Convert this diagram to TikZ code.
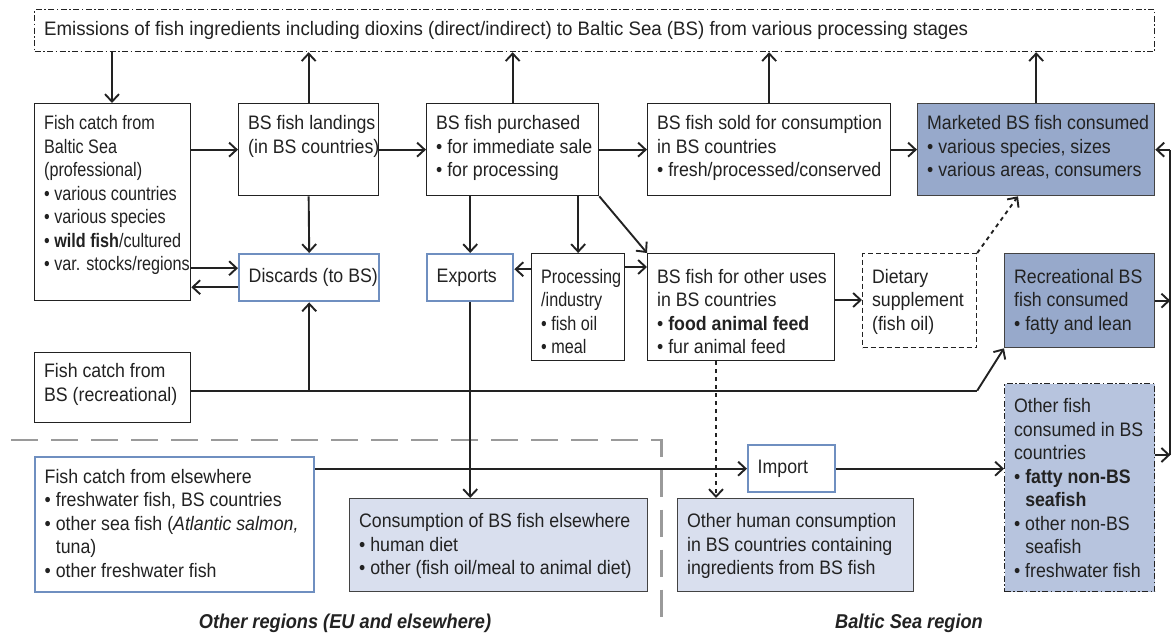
\documentclass[tikz,border=0pt]{standalone}
\usepackage{fontspec}
\setmainfont{Liberation Sans}[FakeStretch=0.91]
\newfontfamily\narrowfont{Liberation Sans}[FakeStretch=0.83]
\newfontfamily\widefont{Liberation Sans}[FakeStretch=0.958]
\usetikzlibrary{arrows.meta}

\definecolor{ink}{HTML}{222222}
\definecolor{bluemid}{HTML}{97A9CB}
\definecolor{bluelight}{HTML}{B7C4DE}
\definecolor{bluepale}{HTML}{D9DFEE}
\definecolor{blueedge}{HTML}{6F8FC0}
\definecolor{greyline}{HTML}{9A9A9A}

\newcommand\lines[1]{\begin{tabular}[t]{@{}l@{}}#1\end{tabular}}
% multi-line box: name, x, y, width, height, style, top padding, lines of text
\newcommand\fbx[8]{%
  \node[#6, anchor=north west, inner sep=0pt, minimum width=#4pt, minimum height=#5pt] (#1) at (#2,#3)
  {\hspace*{9.5pt}\parbox[c][#5pt][t]{\dimexpr#4pt-19pt\relax}{\vspace*{#7pt}\lines{#8}}\hspace*{9.5pt}};}
% single-line box: name, x, y, width, height, style, text (centred vertically)
\newcommand\sbx[7]{%
  \node[#6, anchor=north west, inner sep=0pt, minimum width=#4pt, minimum height=#5pt] (#1) at (#2,#3)
  {\hspace*{9.5pt}\parbox[c][#5pt][c]{\dimexpr#4pt-19pt\relax}{\begin{tabular}[c]{@{}l@{}}#7\end{tabular}}\hspace*{9.5pt}};}
\newcommand\bl{\textbullet\ }
\newcommand\hang{\hphantom{\textbullet\ }}

\begin{document}
\begin{tikzpicture}[x=1pt, y=-1pt,
  font=\fontsize{19.5}{23.5}\selectfont, text=ink,
  narrow/.style={font=\narrowfont\fontsize{19.5}{23.5}\selectfont},
  wide/.style={font=\widefont\fontsize{19.5}{23.5}\selectfont},
  plain/.style={draw=ink, line width=1.3pt, fill=white},
  blueframe/.style={draw=blueedge, line width=2.4pt, fill=white},
  dashframe/.style={draw=ink, line width=1.2pt, fill=white, dash pattern=on 5pt off 3pt},
  dotframe/.style={draw=ink, line width=1.2pt, dash pattern=on 6pt off 2.5pt on 1.5pt off 2.5pt},
  midfill/.style={draw=ink!85, line width=1.3pt, fill=bluemid},
  lightfill/.style={draw=ink!85, line width=1.3pt, fill=bluepale},
  flow/.style={draw=ink, line width=1.9pt},
  arr/.style={flow, -{Straight Barb[length=7.5pt,width=14pt,line width=1.9pt]}},
  dotarr/.style={arr, dash pattern=on 4pt off 4pt},
  region/.style={font=\fontsize{20}{24}\selectfont\bfseries\itshape}]

\useasboundingbox (0,0) rectangle (1174,636);

% boundary between the Baltic Sea region and other regions
\draw[greyline, line width=2.6pt, dash pattern=on 27pt off 13pt] (11,440) -- (661.5,440) -- (661.5,625);

% emissions strip
\sbx{emis}{34}{9}{1120}{42}{dotframe, fill=white, wide}{Emissions of fish ingredients including dioxins (direct/indirect) to Baltic Sea (BS) from various processing stages}

% first row
\fbx{fcb}{34}{103}{156}{197}{plain, narrow}{9.5}{Fish catch from\\Baltic Sea\\(professional)\\\bl various countries\\\bl various species\\\bl \textbf{wild fish}/cultured\\\bl var. stocks/regions}
\fbx{land}{238}{103}{140}{92}{plain}{9.5}{BS fish landings\\(in BS countries)}
\fbx{purch}{426}{103}{172}{92}{plain}{9.5}{BS fish purchased\\\bl for immediate sale\\\bl for processing}
\fbx{sold}{647}{103}{243}{92}{plain}{9.5}{BS fish sold for consumption\\in BS countries\\\bl fresh/processed/conserved}
\fbx{mark}{917}{103}{237}{92}{midfill}{9.5}{Marketed BS fish consumed\\\bl various species, sizes\\\bl various areas, consumers}

% second row
\sbx{disc}{238}{253}{140}{47}{blueframe}{Discards (to BS)}
\sbx{expo}{426}{253}{86}{47}{blueframe}{Exports}
\fbx{proc}{531}{253}{93}{107}{plain, narrow}{13}{Processing\\/industry\\\bl fish oil\\\bl meal}
\fbx{other}{647}{253}{187}{107}{plain}{13}{BS fish for other uses\\in BS countries\\\bl \textbf{food animal feed}\\\bl fur animal feed}
\fbx{diet}{862}{253}{114}{94}{dashframe}{13}{Dietary\\supplement\\(fish oil)}
\fbx{recb}{1004}{253}{150}{94}{midfill}{13}{Recreational BS\\fish consumed\\\bl fatty and lean}

% lower part
\fbx{fcr}{34}{352}{156}{70}{plain}{8.5}{Fish catch from\\BS (recreational)}
\fbx{ofc}{1004}{383}{150}{208}{dotframe, fill=bluelight}{12.5}{Other fish\\consumed in BS\\countries\\\bl \textbf{fatty non-BS}\\\hang\textbf{seafish}\\\bl other non-BS\\\hang seafish\\\bl freshwater fish}
\sbx{imp}{747}{444}{87}{47}{blueframe}{Import}
\fbx{fce}{34}{456}{279}{135}{blueframe}{9.5}{Fish catch from elsewhere\\\bl freshwater fish, BS countries\\\bl other sea fish (\textit{Atlantic salmon,}\\\hang tuna)\\\bl other freshwater fish}
\fbx{cons}{349}{498}{298}{93}{lightfill}{12.5}{Consumption of BS fish elsewhere\\\bl human diet\\\bl other (fish oil/meal to animal diet)}
\fbx{ohc}{677}{498}{236}{93}{lightfill}{12.5}{Other human consumption\\in BS countries containing\\ingredients from BS fish}

% region labels
\node[region] (lblother) at (345,623) {Other regions (EU and elsewhere)};
\node[region] (lblbs) at (909,623) {Baltic Sea region};

% emissions links
\coordinate (emisdown) at ([xshift=78pt]fcb.north west);
\draw[arr] (emisdown |- emis.south) -- (emisdown);
\draw[arr] (land.north) -- (land.north |- emis.south);
\draw[arr] (purch.north) -- (purch.north |- emis.south);
\draw[arr] (sold.north) -- (sold.north |- emis.south);
\draw[arr] (mark.north) -- (mark.north |- emis.south);

% main chain
\draw[arr] (fcb.east |- land.west) -- (land.west);
\draw[arr] (land.east) -- (purch.west);
\draw[arr] (purch.east) -- (sold.west);
\draw[arr] (sold.east) -- (mark.west);

% discards
\draw[arr] (land.south) -- (disc.north);
\coordinate (discin) at ([yshift=9.5pt]disc.west);
\coordinate (discout) at ([yshift=-9.5pt]disc.west);
\draw[arr] (fcb.east |- discin) -- (discin);
\draw[arr] (discout) -- (fcb.east |- discout);

% purchased fish split
\draw[arr] (expo.north |- purch.south) -- (expo.north);
\draw[arr] (proc.north |- purch.south) -- (proc.north);
\draw[arr] (purch.south east) -- (other.north west);
\coordinate (procl) at ([yshift=8.5pt]expo.east);
\draw[arr] (procl -| proc.west) -- (procl);
\coordinate (othin) at ([yshift=-14pt]other.north west);
\draw[arr] (othin -| proc.east) -- (othin);
\coordinate (dietin) at ([yshift=-47pt]other.north east);
\draw[arr] (dietin) -- (dietin -| diet.west);
\coordinate (markin) at ([xshift=101pt]mark.south west);
\draw[dotarr] (diet.north east) -- (markin);

% exports to consumption elsewhere
\draw[arr] (expo.south) -- (expo.south |- cons.north);

% recreational catch
\coordinate (recline) at ([yshift=-3pt]fcr.east);
\draw[flow] (recline) -- (recline -| diet.south east);
\draw[arr] (recline -| diet.south east) -- (recb.south west);
\draw[arr] (recline -| disc.south) -- (disc.south);

% other uses to other human consumption
\coordinate (othdown) at ([xshift=69pt]other.south west);
\draw[dotarr] (othdown) -- (othdown |- ohc.north);

% imports
\draw[arr] (fce.east |- imp.west) -- (imp.west);
\draw[arr] (imp.east) -- (imp.east -| ofc.west);

% collector on the right
\coordinate (bus) at ([xshift=15pt]mark.east);
\coordinate (ofcout) at ([yshift=-72pt]ofc.north east);
\draw[flow] (bus |- ofcout) -- (bus);
\draw[arr] (bus) -- (mark.east);
\draw[arr] (ofcout) -- (ofcout -| bus);
\draw[arr] (recb.east) -- (recb.east -| bus);
\end{tikzpicture}
\end{document}
